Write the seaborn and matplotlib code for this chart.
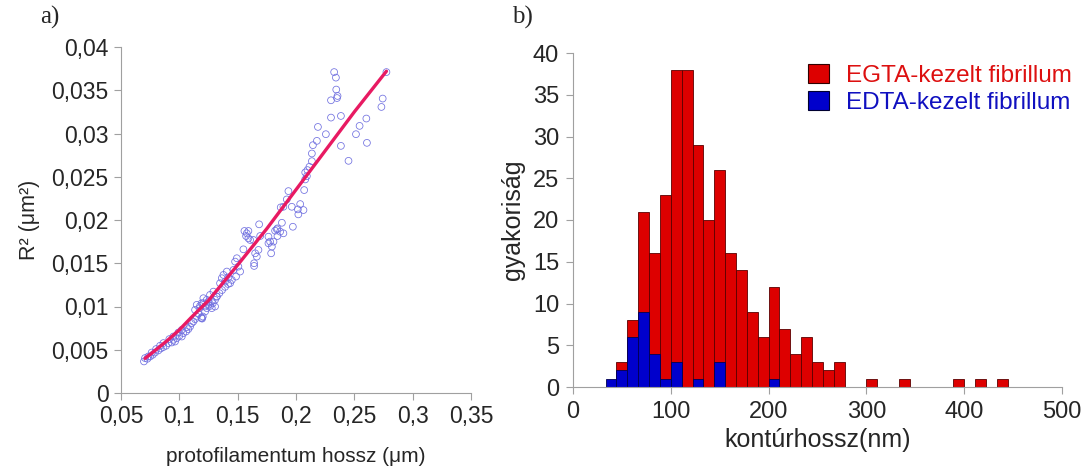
import numpy as np
import pandas as pd
import matplotlib
matplotlib.use("Agg")
import matplotlib.pyplot as plt
from matplotlib.patches import Patch
import seaborn as sns

# ---------------- data: panel a ----------------
scatter_x = [
    0.2327, 0.2342, 0.2345, 0.2356, 0.2351, 0.2300, 0.2743, 0.2732, 0.2775, 0.2385,
    0.2300, 0.2603, 0.2545, 0.2514, 0.2188, 0.2256, 0.2179, 0.2145, 0.2385, 0.2608,
    0.2450, 0.2136, 0.2136,
    0.2115, 0.2098, 0.2079, 0.2093, 0.2079, 0.2070, 0.1935, 0.1921, 0.1869, 0.1892,
    0.1964, 0.2036, 0.2016, 0.2064, 0.2020, 0.1879, 0.1973, 0.1841,
    0.1684, 0.1558, 0.1578, 0.1592, 0.1572, 0.1592, 0.1607, 0.1635, 0.1549, 0.1693,
    0.1764, 0.1778, 0.1764, 0.1807, 0.1793, 0.1821, 0.1836, 0.1864, 0.1841, 0.1787,
    0.1650, 0.1664, 0.1641, 0.1641, 0.1678, 0.1892, 0.1493, 0.1478, 0.1506, 0.1464,
    0.1521, 0.1486, 0.1407, 0.1378, 0.1421, 0.1450, 0.1392, 0.1349, 0.1364, 0.1435,
    0.1292, 0.1263, 0.1321, 0.1235, 0.1278, 0.1206, 0.1192, 0.1221, 0.1249, 0.1306,
    0.1366, 0.1392, 0.1418,
    0.0697, 0.0726, 0.0749, 0.0772, 0.0792, 0.0820, 0.0841, 0.0863, 0.0886, 0.0906,
    0.0935, 0.0949, 0.0963, 0.0978, 0.1000, 0.1021, 0.1034, 0.1058, 0.1077, 0.1092,
    0.1106, 0.1120, 0.1135, 0.1149, 0.1163, 0.1192, 0.1201, 0.1172, 0.1149, 0.1135,
    0.1221, 0.1235, 0.1264, 0.1287, 0.1306, 0.1321, 0.1343, 0.1249, 0.1206, 0.1178,
    0.1278, 0.1064, 0.1021, 0.0992, 0.0949, 0.0914, 0.0863, 0.0835, 0.0801, 0.0763,
    0.0734, 0.0706, 0.1195, 0.1189,
]
scatter_y = [
    0.03710, 0.03646, 0.03508, 0.03434, 0.03410, 0.03384, 0.03404, 0.03307, 0.03710, 0.03203,
    0.03184, 0.03173, 0.03088, 0.02992, 0.03076, 0.02992, 0.02915, 0.02865, 0.02857, 0.02892,
    0.02684, 0.02769, 0.02680,
    0.02615, 0.02577, 0.02550, 0.02507, 0.02469, 0.02346, 0.02334, 0.02238, 0.02146, 0.02153,
    0.02153, 0.02184, 0.02123, 0.02115, 0.02065, 0.01968, 0.01922, 0.01903,
    0.01950, 0.01873, 0.01846, 0.01873, 0.01815, 0.01788, 0.01769, 0.01769, 0.01661, 0.01815,
    0.01807, 0.01750, 0.01731, 0.01750, 0.01692, 0.01876, 0.01892, 0.01865, 0.01815, 0.01615,
    0.01615, 0.01577, 0.01500, 0.01469, 0.01654, 0.01846, 0.01558, 0.01519, 0.01461, 0.01423,
    0.01404, 0.01346, 0.01404, 0.01365, 0.01338, 0.01307, 0.01288, 0.01269, 0.01327, 0.01269,
    0.01172, 0.01134, 0.01115, 0.01077, 0.01057, 0.01096, 0.01038, 0.01000, 0.01020, 0.01000,
    0.01190, 0.01227, 0.01260,
    0.00365, 0.00396, 0.00422, 0.00442, 0.00468, 0.00492, 0.00515, 0.00531, 0.00546, 0.00577,
    0.00584, 0.00615, 0.00595, 0.00635, 0.00661, 0.00653, 0.00692, 0.00711, 0.00738, 0.00768,
    0.00808, 0.00826, 0.00854, 0.00884, 0.00915, 0.00865, 0.00884, 0.00981, 0.01019, 0.00961,
    0.00942, 0.00981, 0.01007, 0.01038, 0.01077, 0.01115, 0.01154, 0.01057, 0.01038, 0.01007,
    0.00981, 0.00761, 0.00730, 0.00699, 0.00653, 0.00623, 0.00577, 0.00546, 0.00508, 0.00468,
    0.00422, 0.00404, 0.00860, 0.00870,
]
fit_x = [0.0706, 0.080, 0.090, 0.100, 0.110, 0.125, 0.150, 0.175, 0.200, 0.225, 0.250, 0.2775]
fit_y = [0.0040, 0.0050, 0.0061, 0.0073, 0.0087, 0.0107, 0.0148, 0.0190, 0.0235, 0.0280, 0.0325, 0.0372]

a_xticks = [0.05, 0.1, 0.15, 0.2, 0.25, 0.3, 0.35]
a_xticklabels = ["0,05", "0,1", "0,15", "0,2", "0,25", "0,3", "0,35"]
a_yticks = [0, 0.005, 0.01, 0.015, 0.02, 0.025, 0.03, 0.035, 0.04]
a_yticklabels = ["0", "0,005", "0,01", "0,015", "0,02", "0,025", "0,03", "0,035", "0,04"]

# ---------------- data: panel b ----------------
first_edge_nm = 100 / 3
bin_width_nm = 100 / 9
egta_counts = [0, 3, 8, 21, 16, 23, 38, 38, 29, 20, 26, 16, 14, 9, 6, 12, 7, 4, 6, 3, 2, 3,
               0, 0, 1, 0, 0, 1, 0, 0, 0, 0, 1, 0, 1, 0, 1]
edta_counts = [1, 2, 6, 9, 4, 1, 3, 0, 1, 0, 3, 0, 0, 0, 0, 1, 0, 0, 0, 0, 0, 0,
               0, 0, 0, 0, 0, 0, 0, 0, 0, 0, 0, 0, 0, 0, 0]
b_xticks = [0, 100, 200, 300, 400, 500]
b_yticks = [0, 5, 10, 15, 20, 25, 30, 35, 40]
labels = ["EGTA-kezelt fibrillum", "EDTA-kezelt fibrillum"]

# ---------------- style ----------------
sns.set_style("ticks")
plt.rcParams["font.family"] = ["Liberation Sans", "DejaVu Sans"]

W, H = 1086, 472
fig = plt.figure(figsize=(W / 100, H / 100), dpi=100)

spine_col = "#a0a0a0"

# ---------- panel a ----------
axa = fig.add_axes([121 / W, 1 - 393 / H, 350 / W, 346 / H])
df_a = pd.DataFrame({"x": scatter_x, "y": scatter_y})
sns.scatterplot(data=df_a, x="x", y="y", ax=axa, marker="o", s=24,
                facecolors="none", edgecolor="#7070e0", linewidth=0.55, zorder=2)
df_fit = pd.DataFrame({"x": fit_x, "y": fit_y})
sns.lineplot(data=df_fit, x="x", y="y", ax=axa, color="#e81a62", linewidth=2.4,
             zorder=3, sort=True)
axa.set_xlim(0.05, 0.35)
axa.set_ylim(0, 0.04)
axa.set_xticks(a_xticks)
axa.set_xticklabels(a_xticklabels)
axa.set_yticks(a_yticks)
axa.set_yticklabels(a_yticklabels)
axa.tick_params(labelsize=16.5, length=5, width=0.8, color=spine_col, pad=4)
axa.set_xlabel("protofilamentum hossz (μm)", fontsize=15, labelpad=13)
axa.set_ylabel("R² (μm²)", fontsize=15.5, labelpad=8)
for s in ["top", "right"]:
    axa.spines[s].set_visible(False)
for s in ["left", "bottom"]:
    axa.spines[s].set_color(spine_col)
    axa.spines[s].set_linewidth(0.8)

# ---------- panel b ----------
axb = fig.add_axes([573 / W, 1 - 387 / H, 489 / W, 334 / H])
nb = len(egta_counts)
edges = [first_edge_nm + i * bin_width_nm for i in range(nb + 1)]
centers = [first_edge_nm + (i + 0.5) * bin_width_nm for i in range(nb)]
df_b = pd.DataFrame({"center": centers, "egta": egta_counts, "edta": edta_counts})
sns.histplot(data=df_b, x="center", weights="egta", bins=edges, ax=axb,
             color="#dd0000", alpha=1, edgecolor="#5a0000", linewidth=0.6)
sns.histplot(data=df_b, x="center", weights="edta", bins=edges, ax=axb,
             color="#0000cc", alpha=1, edgecolor="#000050", linewidth=0.6)
axb.set_xlim(0, 500)
axb.set_ylim(0, 40)
axb.set_xticks(b_xticks)
axb.set_yticks(b_yticks)
axb.tick_params(labelsize=17, length=5, width=0.8, color=spine_col, pad=5)
axb.set_xlabel("kontúrhossz(nm)", fontsize=18, labelpad=4)
axb.set_ylabel("gyakoriság", fontsize=18, labelpad=6)
for s in ["top", "right"]:
    axb.spines[s].set_visible(False)
for s in ["left", "bottom"]:
    axb.spines[s].set_color(spine_col)
    axb.spines[s].set_linewidth(0.8)

handles = [Patch(facecolor="#dd0000", edgecolor="#300000", linewidth=0.8),
           Patch(facecolor="#0000cc", edgecolor="#000030", linewidth=0.8)]
leg = axb.legend(handles, labels, loc="upper left",
                 bbox_to_anchor=(791 / W, 1 - 47 / H), bbox_transform=fig.transFigure,
                 frameon=False, fontsize=17.5, handlelength=0.85, handleheight=0.85,
                 handletextpad=0.7, labelspacing=0.15, borderpad=0.2,
                 labelcolor=["#dd1010", "#1010c0"])

# panel letters
fig.text(40 / W, 1 - 24 / H, "a)", fontsize=18, family=["Liberation Serif", "DejaVu Serif"],
         va="baseline")
fig.text(512 / W, 1 - 24 / H, "b)", fontsize=18, family=["Liberation Serif", "DejaVu Serif"],
         va="baseline")

fig.savefig("out.png", dpi=100)
